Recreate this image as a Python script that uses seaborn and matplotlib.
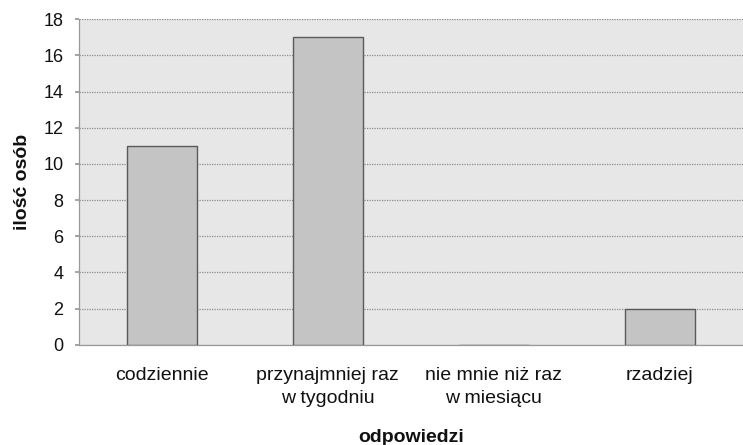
import matplotlib
matplotlib.use("Agg")
import matplotlib.pyplot as plt
import seaborn as sns
import pandas as pd

categories = ["codziennie", "przynajmniej raz\nw tygodniu", "nie mnie niż raz\nw miesiącu", "rzadziej"]
values = [11, 17, 0, 2]
yticks = [0, 2, 4, 6, 8, 10, 12, 14, 16, 18]

sns.set_theme(style="white")
plt.rcParams['font.family'] = ['Liberation Sans', 'DejaVu Sans']

df = pd.DataFrame({"kategoria": categories, "ilosc": values})

fig = plt.figure(figsize=(7.43, 4.45), dpi=100)
ax = fig.add_axes([0.106, 0.225, 0.894, 0.732])
ax.set_facecolor("#e7e7e7")

sns.barplot(data=df, x="kategoria", y="ilosc", ax=ax, color="#c4c4c4",
            width=0.42, edgecolor="#5a5a5a", linewidth=1.0, saturation=1, zorder=3)

ax.set_ylim(0, 18)
ax.set_yticks(yticks)
ax.set_xlim(-0.5, 3.5)
ax.yaxis.grid(True, color="#8a8a8a", linestyle=(0, (1, 1)), linewidth=0.9, zorder=0)
ax.set_axisbelow(True)

for side in ["top", "right"]:
    ax.spines[side].set_visible(False)
ax.spines["left"].set_color("#999999")
ax.spines["bottom"].set_color("#999999")
ax.spines["left"].set_linewidth(0.9)
ax.spines["bottom"].set_linewidth(0.9)

ax.tick_params(axis="y", left=True, length=3, color="#999999", labelsize=13, pad=8, labelcolor="#111111")
ax.tick_params(axis="x", bottom=False, labelsize=14, pad=10, labelcolor="#111111")
for lbl in ax.get_xticklabels():
    lbl.set_linespacing(1.45)

ax.set_ylabel("ilość osób", fontsize=14, fontweight="bold", labelpad=9, color="#111111")
ax.set_xlabel("odpowiedzi", fontsize=14, fontweight="bold", labelpad=16, color="#111111")

fig.savefig("out.png", dpi=100)
